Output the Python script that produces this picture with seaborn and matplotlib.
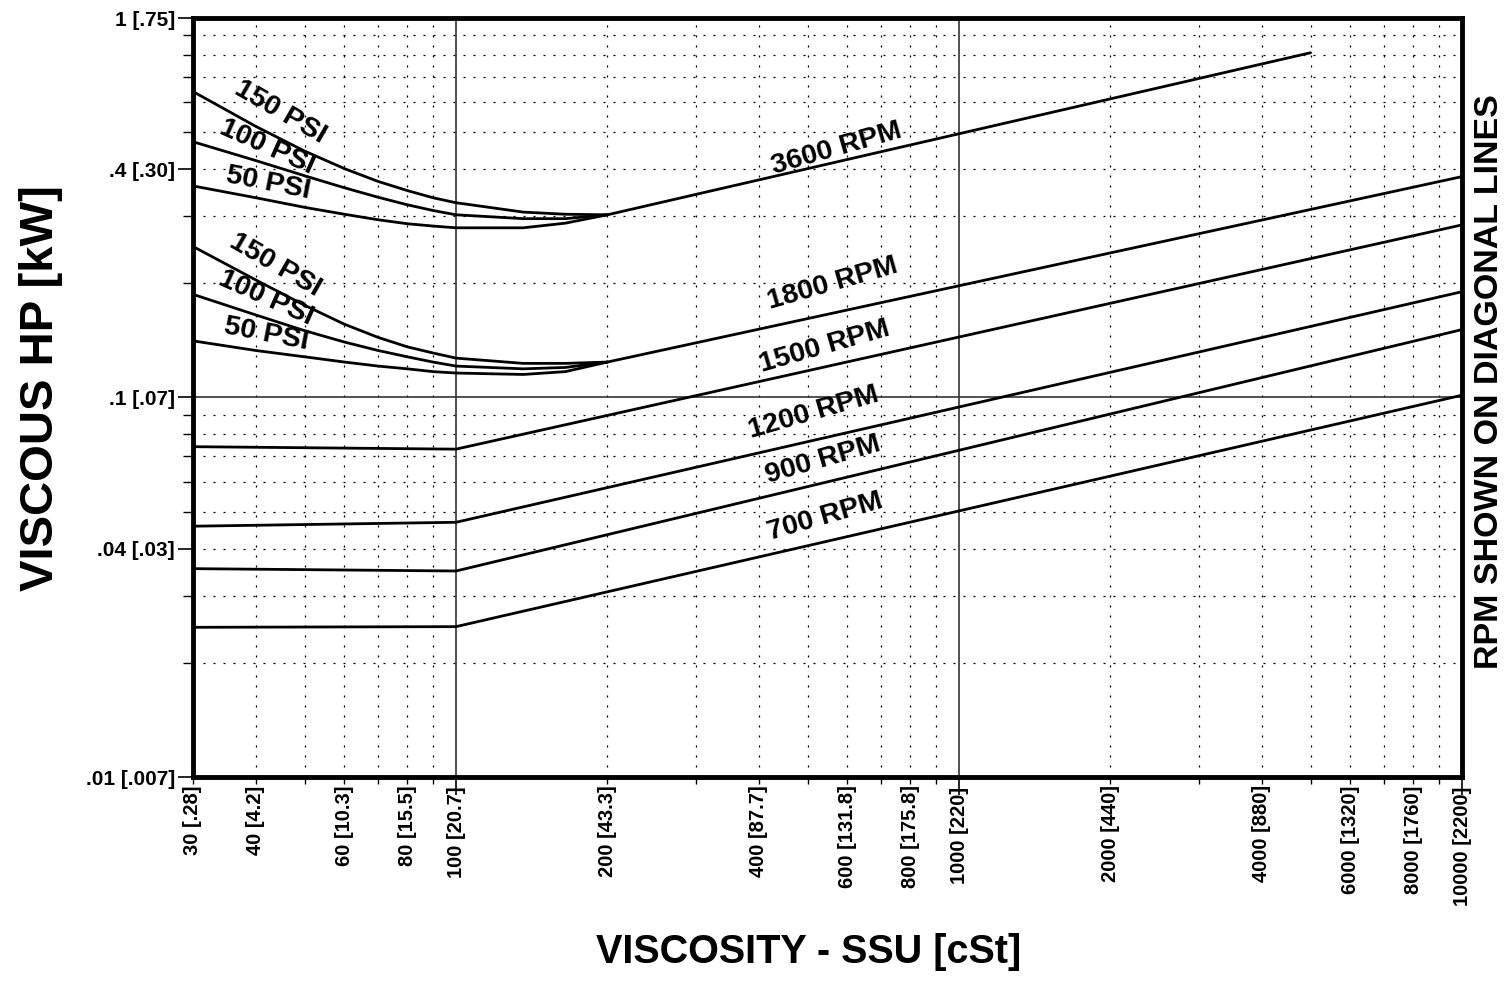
import pandas as pd
import seaborn as sns
import matplotlib.pyplot as plt

# viscosity (SSU) sample points for the pressure curves
psi_x = [30, 40, 50, 60, 70, 80, 90, 100, 136, 165, 200]

# 3600 rpm group
hi_150 = [0.640, 0.518, 0.446, 0.401, 0.371, 0.351, 0.336, 0.326, 0.308, 0.304, 0.303]
hi_100 = [0.472, 0.421, 0.384, 0.357, 0.337, 0.322, 0.311, 0.303, 0.296, 0.296, 0.303]
hi_50 = [0.361, 0.336, 0.317, 0.304, 0.294, 0.287, 0.283, 0.280, 0.280, 0.288, 0.303]

# 1800 rpm group
lo_150 = [0.250, 0.204, 0.175, 0.156, 0.144, 0.136, 0.131, 0.127, 0.123, 0.123, 0.124]
lo_100 = [0.187, 0.165, 0.150, 0.140, 0.133, 0.128, 0.124, 0.121, 0.119, 0.120, 0.124]
lo_50 = [0.141, 0.133, 0.128, 0.124, 0.121, 0.119, 0.117, 0.116, 0.115, 0.117, 0.124]

# diagonal rpm lines
rpm_3600_x = [200, 5000]
rpm_3600_y = [0.303, 0.81]
rpm_1800_x = [200, 10000]
rpm_1800_y = [0.124, 0.382]
rpm_low_x = [30, 100, 10000]
rpm_1500_y = [0.0742, 0.0731, 0.285]
rpm_1200_y = [0.0458, 0.0469, 0.190]
rpm_900_y = [0.0354, 0.0349, 0.151]
rpm_700_y = [0.0248, 0.0249, 0.1014]

x_ticks = [30, 40, 60, 80, 100, 200, 400, 600, 800, 1000, 2000, 4000, 6000, 8000, 10000]
x_labels = ['30 [.28]', '40 [4.2]', '60 [10.3]', '80 [15.5]', '100 [20.7]', '200 [43.3]',
            '400 [87.7]', '600 [131.8]', '800 [175.8]', '1000 [220]', '2000 [440]',
            '4000 [880]', '6000 [1320]', '8000 [1760]', '10000 [2200]']
y_ticks = [0.01, 0.04, 0.1, 0.4, 1]
y_labels = ['.01 [.007]', '.04 [.03]', '.1 [.07]', '.4 [.30]', '1 [.75]']

# labels: text, x, y, rotation
rpm_labels = [('3600 RPM', 570, 0.452, 16), ('1800 RPM', 560, 0.199, 16),
              ('1500 RPM', 541, 0.136, 16), ('1200 RPM', 515, 0.091, 16),
              ('900 RPM', 537, 0.0684, 16), ('700 RPM', 541, 0.0484, 16)]
psi_labels = [('150 PSI', 44.7, 0.565, -30), ('100 PSI', 42.0, 0.457, -24),
              ('50 PSI', 42.3, 0.367, -11), ('150 PSI', 43.7, 0.2235, -30),
              ('100 PSI', 41.9, 0.183, -24), ('50 PSI', 42.0, 0.147, -11)]

rows = []
for name, ys in [('hi150', hi_150), ('hi100', hi_100), ('hi50', hi_50),
                 ('lo150', lo_150), ('lo100', lo_100), ('lo50', lo_50)]:
    rows += [(name, x, y) for x, y in zip(psi_x, ys)]
rows += [('r3600', x, y) for x, y in zip(rpm_3600_x, rpm_3600_y)]
rows += [('r1800', x, y) for x, y in zip(rpm_1800_x, rpm_1800_y)]
for name, ys in [('r1500', rpm_1500_y), ('r1200', rpm_1200_y),
                 ('r900', rpm_900_y), ('r700', rpm_700_y)]:
    rows += [(name, x, y) for x, y in zip(rpm_low_x, ys)]
df = pd.DataFrame(rows, columns=['curve', 'ssu', 'hp'])

sns.set_style('white')
plt.rcParams['font.family'] = ['Liberation Sans', 'DejaVu Sans']
plt.rcParams['font.weight'] = 'bold'
plt.rcParams['text.color'] = 'black'
plt.rcParams['xtick.color'] = 'black'
plt.rcParams['ytick.color'] = 'black'
plt.rcParams['xtick.labelcolor'] = 'black'
plt.rcParams['ytick.labelcolor'] = 'black'

fig = plt.figure(figsize=(15.08, 10.05), dpi=100)
ax = fig.add_axes([193 / 1508, 1 - 777 / 1005, (1462 - 193) / 1508, (777 - 18) / 1005])
ax.set_xscale('log')
ax.set_yscale('log')
ax.set_xlim(30, 10000)
ax.set_ylim(0.01, 1)

# grid
dot = dict(color='black', lw=0.9, ls=(0, (1.6, 6.4)), zorder=1)
for dec in [10, 100, 1000]:
    for m in range(2, 10):
        v = dec * m
        if 30 < v < 10000:
            ax.axvline(v, **dot)
for dec in [0.01, 0.1]:
    for m in range(2, 10):
        ax.axhline(dec * m, **dot)
for v in [100, 1000]:
    ax.axvline(v, color='#333333', lw=1.2, zorder=1)
ax.axhline(0.1, color='#333333', lw=1.2, zorder=1)

sns.lineplot(data=df, x='ssu', y='hp', units='curve', estimator=None, sort=False,
             color='black', lw=2.0, ax=ax, zorder=3)

for txt, x, y, rot in rpm_labels + psi_labels:
    ax.text(x, y, txt, rotation=rot, rotation_mode='anchor', ha='center', va='center',
            fontsize=20.5, fontweight='bold', color='black', zorder=4)

# ticks
big = (100, 1000, 10000)
ax.set_xticks(list(big), [x_labels[x_ticks.index(v)] for v in big],
              fontweight='bold', fontsize=14.5, color='black')
minor_x = [v for v in x_ticks if v not in big]
all_minor = sorted(set([d * m for d in [10, 100, 1000] for m in range(2, 10) if 30 <= d * m < 10000] + minor_x))
ax.set_xticks(all_minor, [x_labels[x_ticks.index(v)] if v in minor_x else '' for v in all_minor],
              minor=True, fontweight='bold', fontsize=14.5, color='black')
ax.tick_params(axis='x', which='major', length=13, width=1.2, pad=-6, labelrotation=90)
ax.tick_params(axis='x', which='minor', length=5, width=1.0, pad=1, labelrotation=90)

ax.set_yticks(y_ticks, y_labels, fontweight='bold', fontsize=15, color='black')
minor_y = [d * m for d in [0.01, 0.1] for m in range(2, 10) if d * m not in (0.04, 0.4)]
ax.set_yticks(minor_y, [''] * len(minor_y), minor=True)
ax.tick_params(axis='y', which='major', length=11, width=1.2, pad=2)
ax.tick_params(axis='y', which='minor', length=7, width=1.0)
ax.tick_params(bottom=True, left=True, which='both', direction='out', color='black')
ax.set_xlabel('')
ax.set_ylabel('')

for s in ax.spines.values():
    s.set_visible(True)
    s.set_color('black')
    s.set_linewidth(3.5)

fig.text(0.027, 0.614, 'VISCOUS HP [kW]', rotation=90, ha='center', va='center',
         fontsize=34, fontweight='bold', color='black')
fig.text(0.536, 0.053, 'VISCOSITY - SSU [cSt]', ha='center', va='center',
         fontsize=28.5, fontweight='bold', color='black')
fig.text(0.988, 0.620, 'RPM SHOWN ON DIAGONAL LINES', rotation=90, ha='center', va='center',
         fontsize=24.5, fontweight='bold', color='black')

fig.savefig('out.png', dpi=100)
